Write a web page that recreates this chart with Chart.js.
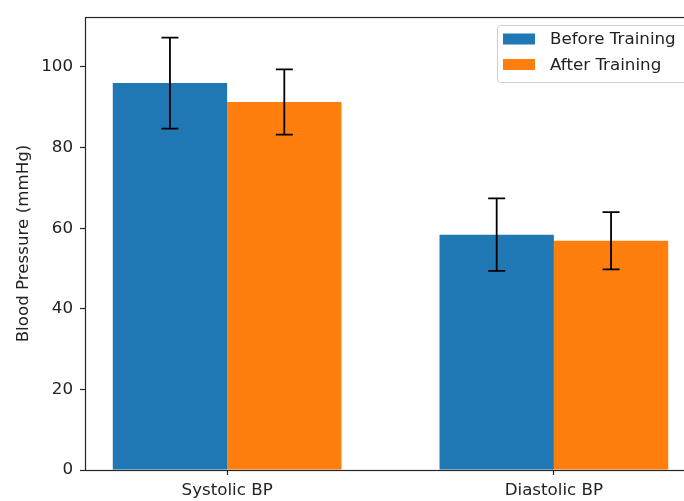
<!DOCTYPE html>
<html>
<head>
<meta charset="utf-8">
<script src="https://cdn.jsdelivr.net/npm/chart.js@4.4.0/dist/chart.umd.min.js"></script>
<style>
  html, body { margin: 0; padding: 0; background: #fff; overflow: hidden; }
  #wrap { width: 700px; height: 501px; }
</style>
</head>
<body>
<div id="wrap"><canvas id="bp" width="700" height="501"></canvas></div>
<script>
  const categories = ["Systolic BP", "Diastolic BP"];
  const beforeMeans = [96.0, 58.4];
  const beforeSd = [11.3, 9.0];
  const afterMeans = [91.3, 56.9];
  const afterSd = [8.1, 7.1];
  const yTicks = [0, 20, 40, 60, 80, 100];

  const FONT = "'DejaVu Sans', sans-serif";
  const FS = 16.7;

  // error bars drawn at bar centres from library metadata
  const errorBars = {
    id: "errorBars",
    afterDatasetsDraw(chart) {
      const ctx = chart.ctx;
      const y = chart.scales.y;
      ctx.save();
      ctx.strokeStyle = "#000";
      ctx.lineWidth = 1.8;
      chart.data.datasets.forEach((ds, i) => {
        const meta = chart.getDatasetMeta(i);
        meta.data.forEach((bar, j) => {
          const v = ds.data[j].y, e = ds.errors[j];
          const top = y.getPixelForValue(v + e), bot = y.getPixelForValue(v - e);
          ctx.beginPath();
          ctx.moveTo(bar.x, top); ctx.lineTo(bar.x, bot);
          ctx.moveTo(bar.x - 8.5, top); ctx.lineTo(bar.x + 8.5, top);
          ctx.moveTo(bar.x - 8.5, bot); ctx.lineTo(bar.x + 8.5, bot);
          ctx.stroke();
        });
      });
      ctx.restore();
    },
  };

  // spines and legend box like matplotlib
  const frameAndLegend = {
    id: "frameAndLegend",
    afterDraw(chart) {
      const ctx = chart.ctx;
      const a = chart.chartArea;
      ctx.save();
      ctx.strokeStyle = "#262626";
      ctx.lineWidth = 1.2;
      ctx.strokeRect(a.left + 0.5, a.top + 0.5, a.right - a.left, a.bottom - a.top);

      const lx = 497, ly = 25, lw = 192, lh = 57;
      ctx.fillStyle = "rgba(255,255,255,0.8)";
      ctx.strokeStyle = "#d0d0d0";
      ctx.lineWidth = 1;
      ctx.beginPath();
      ctx.roundRect(lx + 0.5, ly + 0.5, lw, lh, 3);
      ctx.fill();
      ctx.stroke();
      ctx.font = FS + "px " + FONT;
      ctx.textBaseline = "middle";
      chart.data.datasets.forEach((ds, i) => {
        const cy = 39 + i * 25.5;
        ctx.fillStyle = ds.backgroundColor;
        ctx.fillRect(503, cy - 5.5, 32, 11);
        ctx.fillStyle = "#222";
        ctx.fillText(ds.label, 550, cy + 1);
      });
      ctx.restore();
    },
  };

  new Chart(document.getElementById("bp"), {
    type: "bar",
    data: {
      datasets: [
        {
          label: "Before Training",
          data: beforeMeans.map((v, i) => ({ x: i, y: v })),
          errors: beforeSd,
          backgroundColor: "#1f77b4",
        },
        {
          label: "After Training",
          data: afterMeans.map((v, i) => ({ x: i, y: v })),
          errors: afterSd,
          backgroundColor: "#ff7f0e",
        },
      ],
    },
    plugins: [errorBars, frameAndLegend],
    options: {
      responsive: false,
      animation: false,
      categoryPercentage: 0.7,
      barPercentage: 1.0,
      layout: { padding: { left: 0, right: 4, top: 16, bottom: 0 } },
      plugins: { legend: { display: false }, tooltip: { enabled: false } },
      scales: {
        x: {
          type: "linear",
          offset: false,
          min: -0.435,
          max: 1.435,
          afterBuildTicks: (s) => { s.ticks = categories.map((c, i) => ({ value: i })); },
          afterFit: (s) => { s.height = 31; },
          ticks: {
            callback: (v) => categories[v],
            color: "#222",
            font: { family: FONT, size: FS },
            padding: 6,
            maxRotation: 0,
          },
          grid: { offset: false, drawOnChartArea: false, tickLength: 5, tickColor: "#262626", tickWidth: 1.2 },
          border: { display: false },
        },
        y: {
          min: 0,
          max: 112.4,
          afterBuildTicks: (s) => { s.ticks = yTicks.map((v) => ({ value: v })); },
          afterFit: (s) => { s.width = 85; },
          ticks: {
            color: "#222",
            font: { family: FONT, size: FS },
            padding: 7,
          },
          grid: { drawOnChartArea: false, tickLength: 5, tickColor: "#262626", tickWidth: 1.2 },
          border: { display: false },
          title: {
            display: true,
            text: "Blood Pressure (mmHg)",
            color: "#222",
            font: { family: FONT, size: FS },
            padding: { top: 14, bottom: 0 },
          },
        },
      },
    },
  });
</script>
</body>
</html>
